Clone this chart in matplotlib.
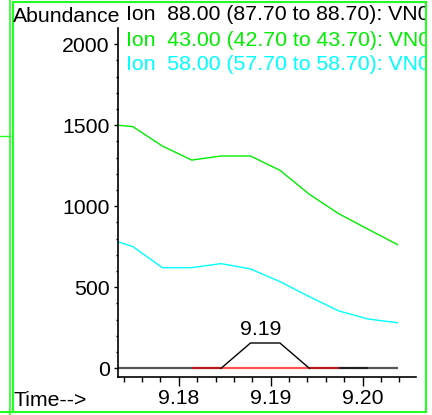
"""
"""

import matplotlib
matplotlib.use('Agg')
import matplotlib.pyplot as plt
from matplotlib.lines import Line2D
from matplotlib.transforms import Bbox, TransformedBbox

## ion chromatogram traces (time in min, abundance)
times = [9.1734, 9.1750, 9.1782, 9.1814, 9.1846, 9.1878,
         9.1910, 9.1942, 9.1974, 9.2006, 9.2038]
ion43 = [1500, 1491, 1372, 1285, 1310, 1310, 1222, 1074, 954, 858, 763]
ion58 = [780, 751, 621, 621, 646, 613, 535, 442, 354, 304, 281]

## integrated peak of ion 88
peak_times = [9.1846, 9.1878, 9.1910, 9.1942]
peak_vals = [0, 156, 156, 0]
peak_label = '9.19'

## baseline pieces and their colours
base_times = [9.1734, 9.1814, 9.1846, 9.1942, 9.1974, 9.2006, 9.2038]
base_colors = ['#555555', '#b81818', '#ff5050', '#b81818', '#202020', '#555555']

legend_lines = ['Ion  88.00 (87.70 to 88.70): VN0',
                'Ion  43.00 (42.70 to 43.70): VN0',
                'Ion  58.00 (57.70 to 58.70): VN0']
legend_colors = ['black', '#00ee00', '#00ffff']

x_major = [9.18, 9.19, 9.20]
x_labels = ['9.18', '9.19', '9.20']
y_major = [0, 500, 1000, 1500, 2000]

FS = 15.3
plt.rcParams['font.family'] = ['Liberation Sans', 'DejaVu Sans']
W, H = 432, 415
fig = plt.figure(figsize=(W / 100, H / 100), dpi=100)
ax = fig.add_axes([118 / W, 1 - 376.7 / H, (416 - 118) / W, (376.7 - 28) / H])

ax.plot(times, ion43, color='#00ee00', lw=1.0)
ax.plot(times, ion58, color='#00ffff', lw=1.0)
for i in range(len(base_colors)):
    ax.plot(base_times[i:i + 2], [0, 0], color=base_colors[i], lw=1.6,
            solid_capstyle='butt')
ax.plot(peak_times, peak_vals, color='black', lw=1.0)
ax.text((peak_times[1] + peak_times[2]) / 2 - 0.0005, max(peak_vals) + 25,
        peak_label, ha='center', va='bottom', fontsize=FS)

ax.set_xlim(9.17338, 9.20581)
ax.set_ylim(-52, 2100)
ax.set_xticks(x_major)
ax.set_xticklabels(x_labels)
ax.set_xticks([9.174 + 0.002 * k for k in range(16)], minor=True)
ax.set_yticks(y_major)
ax.set_yticks(range(0, 2100, 100), minor=True)
ax.tick_params(axis='x', which='major', length=6.5, width=1, pad=2,
               labelsize=FS)
ax.tick_params(axis='x', which='minor', length=3.6, width=1)
ax.tick_params(axis='y', which='major', length=3, width=1, pad=3,
               labelsize=FS)
ax.tick_params(axis='y', which='minor', length=1.5, width=1)
for s in ['top', 'right']:
    ax.spines[s].set_visible(False)
for s in ['left', 'bottom']:
    ax.spines[s].set_linewidth(1.2)

## axis captions
fig.text(13 / W, 1 - 16 / H, 'Abundance', ha='left', va='center', fontsize=FS)
fig.text(13 / W, 1 - 400 / H, 'Time-->', ha='left', va='center', fontsize=FS)

## legend, clipped at the frame
clip = TransformedBbox(Bbox([[0, 0], [425 / W, 1]]), fig.transFigure)
for k, (txt, col) in enumerate(zip(legend_lines, legend_colors)):
    t = fig.text(126 / W, 1 - (15 + 25 * k) / H, txt, color=col,
                 ha='left', va='center', fontsize=FS)
    t.set_clip_on(True)
    t.set_clip_box(clip)

## window frame
green = '#22ff22'
def fline(xs, ys, **kw):
    fig.add_artist(Line2D([x / W for x in xs], [1 - y / H for y in ys],
                          transform=fig.transFigure, color=green, **kw))
fline([10, 10], [0, 415], lw=1.2)
fline([12.5, 12.5], [2, 412], lw=1.5)
fline([12.5, 426], [2, 2], lw=1.5)
fline([426, 426], [2, 412], lw=1.5)
fline([0, 426], [412, 412], lw=1.5)
fline([0, 10], [136, 136], lw=1.0)

fig.savefig('out.png', dpi=100)
